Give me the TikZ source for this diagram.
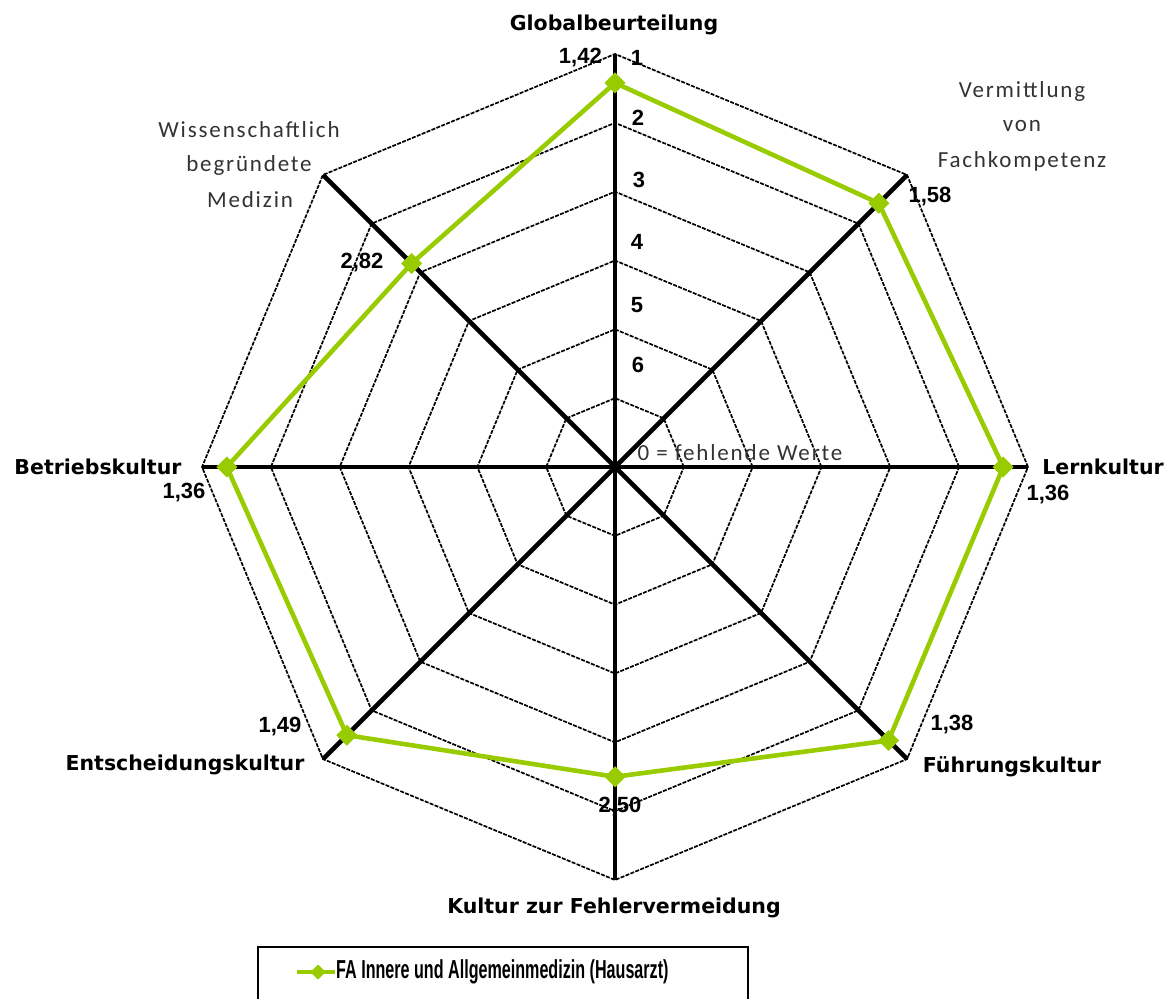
\documentclass[tikz,border=0pt]{standalone}
\usepackage{fontspec}
\usetikzlibrary{shapes.geometric}
\newfontfamily\catfont{DejaVu Sans}
\newfontfamily\numfont{Liberation Sans}
\newfontfamily\grayfont{Carlito}[LetterSpace=8]
\newfontfamily\legfont{Liberation Sans}[FakeStretch=0.62]
\definecolor{serie}{HTML}{99CC00}
\definecolor{graytxt}{HTML}{333333}
\tikzset{
  ring/.style={line width=1.7pt, dash pattern=on 4pt off 1.3pt},
  spoke/.style={line width=4.6pt},
  serieline/.style={serie, line width=4.6pt, line join=round},
  marker/.style={diamond, fill=serie, draw=serie, line width=1pt, inner sep=0pt, minimum size=20pt},
  cat/.style={inner sep=0pt, font=\catfont\bfseries\fontsize{20.5}{24}\selectfont},
  num/.style={inner sep=0pt, font=\numfont\bfseries\fontsize{22}{26}\selectfont},
  gray/.style={inner sep=0pt, text=graytxt, font=\grayfont\fontsize{23}{27}\selectfont},
  leg/.style={inner sep=0pt, font=\legfont\bfseries\fontsize{26}{30}\selectfont},
}
\begin{document}
\begin{tikzpicture}[x=1pt,y=1pt]
\useasboundingbox (0,0) rectangle (1166,999);
\coordinate (O) at (615,532);
\begin{scope}[shift={(O)}]
  % grid rings
  \foreach \k in {1,...,6}{
    \draw[ring] (0:{413*\k/6}) -- (45:{413*\k/6}) -- (90:{413*\k/6}) -- (135:{413*\k/6})
      -- (180:{413*\k/6}) -- (225:{413*\k/6}) -- (270:{413*\k/6}) -- (315:{413*\k/6}) -- cycle;
  }
  % spokes
  \foreach \a/\n in {90/top,45/ne,0/right,-45/se,-90/bottom,-135/sw,180/left,135/nw}{
    \coordinate (v\n) at (\a:413);
  }
  \foreach \n in {top,ne,right,se,bottom,sw,left,nw}{
    \draw[spoke] (O) -- (v\n);
  }
  % data
  \coordinate (dG) at (90:{413*(7-1.42)/6});
  \coordinate (dV) at (45:{413*(7-1.58)/6});
  \coordinate (dL) at (0:{413*(7-1.36)/6});
  \coordinate (dF) at (-45:{413*(7-1.38)/6});
  \coordinate (dK) at (-90:{413*(7-2.50)/6});
  \coordinate (dE) at (-135:{413*(7-1.49)/6});
  \coordinate (dB) at (180:{413*(7-1.36)/6});
  \coordinate (dW) at (135:{413*(7-2.82)/6});
\end{scope}
\draw[serieline] (dG) -- (dV) -- (dL) -- (dF) -- (dK) -- (dE) -- (dB) -- (dW) -- cycle;
\foreach \p in {dG,dV,dL,dF,dK,dE,dB,dW}{
  \node[marker] (m\p) at (\p) {};
}
% category labels
\node[cat] (lG) at (614,974) {Globalbeurteilung};
\node[gray] (lV1) at (1022,907) {Vermittlung};
\node[gray] (lV2) at (1022,873) {von};
\node[gray] (lV3) at (1022,838) {Fachkompetenz};
\node[cat] (lL) at (1103,532) {Lernkultur};
\node[cat] (lF) at (1012,232) {Führungskultur};
\node[cat] (lK) at (614,91) {Kultur zur Fehlervermeidung};
\node[cat] (lE) at (185,234) {Entscheidungskultur};
\node[cat] (lB) at (98,532) {Betriebskultur};
\node[gray] (lW1) at (249,869) {Wissenschaftlich};
\node[gray] (lW2) at (249,834) {begründete};
\node[gray] (lW3) at (250,799) {Medizin};
% value labels
\node[num, anchor=east] (vG) at (602,941) {1,42};
\node[num] (vV) at (930,802) {1,58};
\node[num] (vL) at (1048,504) {1,36};
\node[num] (vF) at (952,274) {1,38};
\node[num] (vK) at (620,192) {2,50};
\node[num] (vE) at (280,272) {1,49};
\node[num] (vB) at (184,506) {1,36};
\node[num] (vW) at (362,736) {2,82};
% scale labels
\node[num] (s1) at (637,941) {1};
\node[num] (s2) at (638,881) {2};
\node[num] (s3) at (639,819) {3};
\node[num] (s4) at (637,757) {4};
\node[num] (s5) at (637,694) {5};
\node[num] (s6) at (638,634) {6};
\node[gray] (s0) at (740,546) {0 = fehlende Werte};
% legend
\coordinate (bl) at (258,0);
\coordinate (tl) at (258,52);
\coordinate (tr) at (748,52);
\coordinate (br) at (748,0);
\draw[line width=1.7pt] (bl) -- (tl) -- (tr) -- (br);
\coordinate (la) at (297,27);
\coordinate (lb) at (335,27);
\draw[serie, line width=4pt] (la) -- (lb);
\node[marker, minimum size=14pt] (lm) at (318,27) {};
\node[leg, anchor=west] (lt) at (336,27) {FA Innere und Allgemeinmedizin (Hausarzt)};
\end{tikzpicture}
\end{document}
